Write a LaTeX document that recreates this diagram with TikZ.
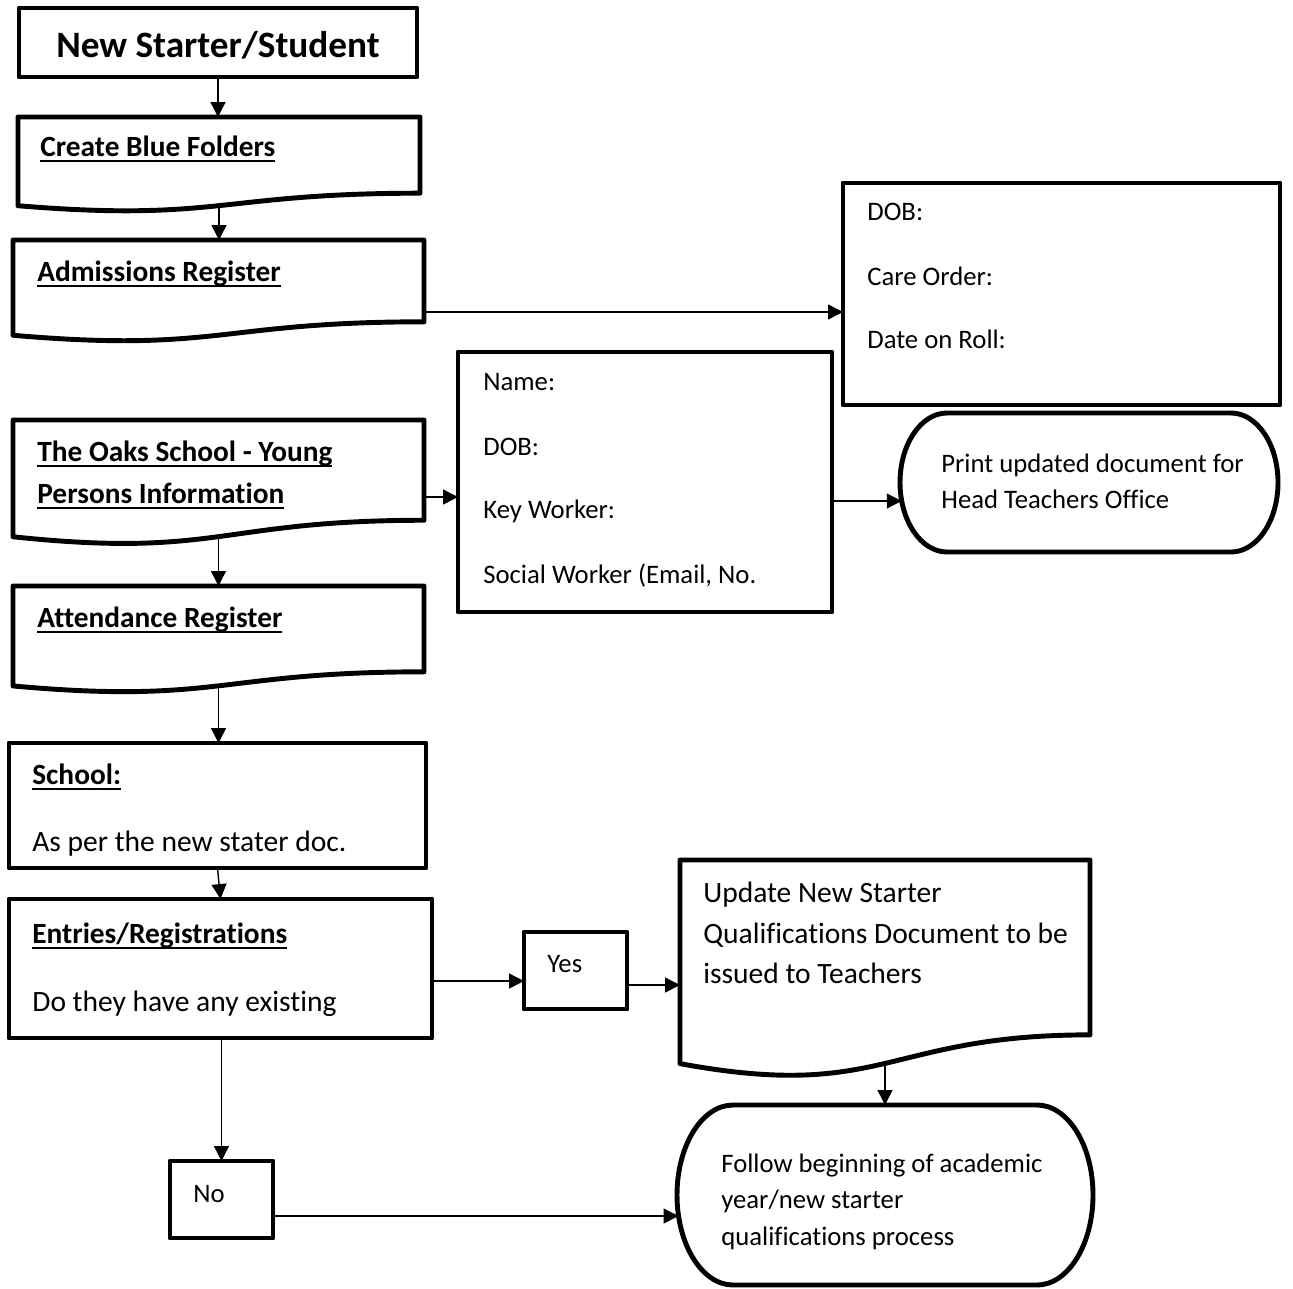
\documentclass[tikz,border=0pt]{standalone}
\usepackage{fontspec}
\setmainfont{Carlito}[Ligatures={NoCommon}]
\usetikzlibrary{arrows.meta,calc,fit}
\newcommand\ulin[1]{\setbox0\hbox{#1}\rlap{\rule[-0.21em]{\wd0}{0.075em}}\box0}
\newcommand\docshape[1]{%
  \draw[box] (#1.north west) -- (#1.north east) -- ($(#1.north east)!0.802!(#1.south east)$)
    .. controls ($(#1.north)!0.802!(#1.south)$) and ($(#1.north)!1.1075!(#1.south)$) ..
    ($(#1.north west)!0.934!(#1.south west)$) -- cycle;}
\newcommand\termshape[2]{%
  \draw[box] ($(#1.north west)+(#2,0)$) -- ($(#1.north east)+(-#2,0)$)
    .. controls ($(#1.north east)+(-0.448*#2,0)$) and ($(#1.north east)!0.224!(#1.south east)$) .. (#1.east)
    .. controls ($(#1.north east)!0.776!(#1.south east)$) and ($(#1.south east)+(-0.448*#2,0)$) .. ($(#1.south east)+(-#2,0)$)
    -- ($(#1.south west)+(#2,0)$)
    .. controls ($(#1.south west)+(0.448*#2,0)$) and ($(#1.north west)!0.776!(#1.south west)$) .. (#1.west)
    .. controls ($(#1.north west)!0.224!(#1.south west)$) and ($(#1.north west)+(0.448*#2,0)$) .. ($(#1.north west)+(#2,0)$) -- cycle;}
\tikzset{
  box/.style={draw, line width=2.8pt, line join=round},
  fitbox/.style={inner sep=0pt, outer sep=0pt},
  conn/.style={line width=0.8pt, -{Triangle[length=8.5pt,width=8.5pt]}},
  tb/.style={anchor=base west, inner sep=0pt, font=\fontsize{16.7}{19}\selectfont\bfseries},
  tl/.style={anchor=base west, inner sep=0pt, font=\fontsize{16.8}{20}\selectfont},
  ts/.style={anchor=base west, inner sep=0pt, font=\fontsize{15.2}{18}\selectfont},
}
\begin{document}
\begin{tikzpicture}[x=0.02cm,y=-0.02cm]
\useasboundingbox (0,0) rectangle (1293,1288);
% shapes
\node[fitbox, box, fit={(19,8) (417,77)}] (start) {};
\node[fitbox, fit={(18,117) (420,212)}] (cbf) {};
\node[fitbox, fit={(13,240) (424,342)}] (adm) {};
\node[fitbox, fit={(13,420) (424,545)}] (oaks) {};
\node[fitbox, fit={(13,586) (424,693)}] (att) {};
\node[fitbox, box, fit={(9,743) (426,868)}] (school) {};
\node[fitbox, box, fit={(9,899) (432,1038)}] (entries) {};
\node[fitbox, box, fit={(524,932) (627,1009)}] (yes) {};
\node[fitbox, box, fit={(170,1161) (273,1238)}] (no) {};
\node[fitbox, fit={(680,860) (1090,1078)}] (upd) {};
\node[fitbox, fit={(677,1105) (1093,1285)}] (follow) {};
\node[fitbox, fit={(900,413) (1278,552)}] (print) {};
\node[fitbox, box, fit={(843,183) (1280,405)}] (dob) {};
\node[fitbox, box, fit={(458,352) (832,612)}] (name) {};
\docshape{cbf}
\docshape{adm}
\docshape{oaks}
\docshape{att}
\docshape{upd}
\termshape{print}{47}
\termshape{follow}{56}
% wave bottom points
\coordinate (cbf-b) at ($(cbf.north)!0.933!(cbf.south)$);
\coordinate (oaks-b) at ($(oaks.north)!0.933!(oaks.south)$);
\coordinate (att-b) at ($(att.north)!0.933!(att.south)$);
\coordinate (upd-b) at ($(upd.north)!0.933!(upd.south)$);
% texts
\node[anchor=base, inner sep=0pt, font=\fontsize{21.2}{25}\selectfont\bfseries] (startt) at (218,57) {New Starter/Student};
\node[tb] (cbft) at (40,156) {\ulin{Create Blue Folders}};
\node[tb] (admt) at (37,281) {\ulin{Admissions Register}};
\node[tb] (oakst1) at (37,461) {\ulin{The Oaks School - Young}};
\node[tb] (oakst2) at (37,503) {\ulin{Persons Information}};
\node[tb] (attt) at (37,627) {\ulin{Attendance Register}};
\node[tb] (schoolt1) at (32,784) {\ulin{School:}};
\node[tl] (schoolt2) at (32,851) {As per the new stater doc.};
\node[tb] (entriest1) at (32,943) {\ulin{Entries/Registrations}};
\node[tl] (entriest2) at (32,1011) {Do they have any existing};
\node[ts] (yest) at (547,972) {Yes};
\node[ts] (not) at (193,1202) {No};
\node[ts] (dobt1) at (867,220) {DOB:};
\node[ts] (dobt2) at (867,285) {Care Order:};
\node[ts] (dobt3) at (867,348) {Date on Roll:};
\node[ts] (namet1) at (483,390) {Name:};
\node[ts] (namet2) at (483,455) {DOB:};
\node[ts] (namet3) at (483,518) {Key Worker:};
\node[ts] (namet4) at (483,583) {Social Worker (Email, No.};
\node[ts] (printt1) at (941,472) {Print updated document for};
\node[ts] (printt2) at (941,508) {Head Teachers Office};
\node[tl] (updt1) at (703,902) {Update New Starter};
\node[tl] (updt2) at (703,943) {Qualifications Document to be};
\node[tl] (updt3) at (703,983) {issued to Teachers};
\node[ts] (followt1) at (721,1172) {Follow beginning of academic};
\node[ts] (followt2) at (721,1208) {year/new starter};
\node[ts] (followt3) at (721,1245) {qualifications process};
% connectors
\draw[conn] (start.south) -- (start.south |- cbf.north);
\draw[conn] (cbf-b) -- (cbf-b |- adm.north);
\draw[conn] (adm.east |- 0,312) -- (dob.west |- 0,312);
\draw[conn] (oaks.east |- 0,497) -- (name.west |- 0,497);
\draw[conn] (name.east |- 0,501) -- ([shift={(1.7,18.5)}]print.west);
\draw[conn] (oaks-b) -- (oaks-b |- att.north);
\draw[conn] (att-b) -- (att-b |- school.north);
\draw[conn] (school.south) -- (entries.north);
\draw[conn] (entries.east |- 0,981) -- (yes.west |- 0,981);
\draw[conn] (yes.east |- 0,985) -- (upd.west |- 0,985);
\draw[conn] (upd-b) -- (upd-b |- follow.north);
\draw[conn] (no.north |- entries.south) -- (no.north);
\draw[conn] (no.east |- 0,1216) -- ([shift={(1.5,21)}]follow.west);
\end{tikzpicture}
\end{document}
